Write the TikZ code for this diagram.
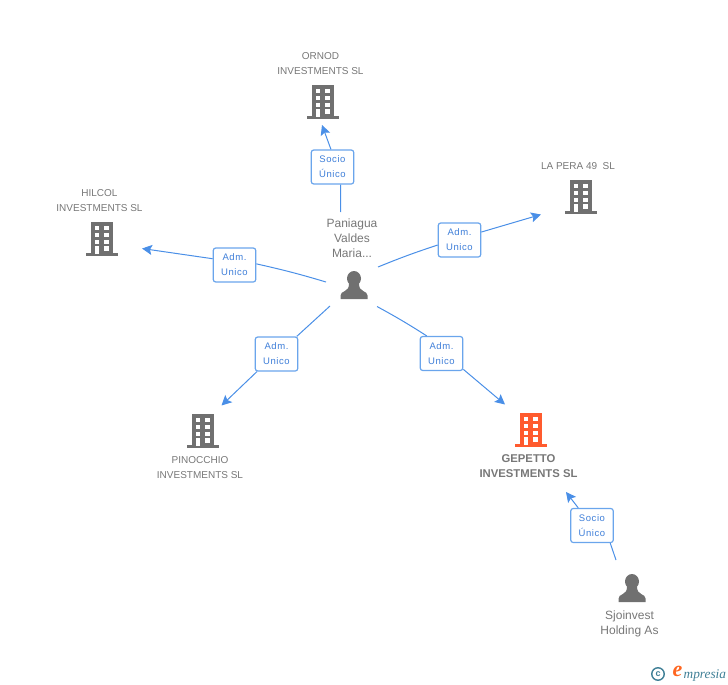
\documentclass[tikz,border=0pt]{standalone}
\usepackage{fontspec}
\usepackage{xcolor}
\usetikzlibrary{arrows.meta}
\setmainfont{Liberation Sans}
\newfontfamily\logofont{Liberation Serif}
\definecolor{linkblue}{HTML}{4A8FE7}
\definecolor{boxblue}{HTML}{6AA5EC}
\definecolor{labelblue}{HTML}{3F7FD9}
\definecolor{icongrey}{HTML}{707070}
\definecolor{textgrey}{HTML}{777777}
\definecolor{mainorange}{HTML}{FF5B2E}
\definecolor{logoteal}{HTML}{3F7F96}
\tikzset{
    link/.style={draw=linkblue,line width=1pt},
    linkarrow/.style={link,-{Stealth[length=10pt,width=10pt,inset=2pt]}},
    rolebox/.style={draw=boxblue,line width=1.2pt,fill=white,rounded corners=2.5pt,minimum width=42.5pt,minimum height=34pt,inner sep=0pt,align=center,text=labelblue,font=\fontsize{9.5}{15}\selectfont\addfontfeatures{LetterSpace=6}},
    entityname/.style={align=center,text=textgrey,inner sep=0pt,font=\fontsize{10}{15}\selectfont},
    personname/.style={entityname,font=\fontsize{12}{15}\selectfont},
    building/.pic={
        \fill[pic actions] (-11,-2.5) rectangle (11,-33.5);
        \fill[pic actions] (-16,0) rectangle (16,-2.8);
        \foreach \row in {-29.5,-22.5,-16} {
            \fill[white] (-7,\row) rectangle (-3,\row+4);
            \fill[white] (2,\row) rectangle (7,\row+4);
        }
        \fill[white] (-7,-9.5) rectangle (-3,-1.5);
        \fill[white] (2,-9.5) rectangle (7,-5);
    },
    person/.pic={
        \fill[pic actions] (0,-20.5) ellipse (7 and 7.5);
        \fill[pic actions] (-13.5,0) -- (-13.5,-3.5) .. controls (-13.5,-8.5) and (-5,-6.5) .. (-5,-15) -- (5,-15) .. controls (5,-6.5) and (13.5,-8.5) .. (13.5,-3.5) -- (13.5,0) -- cycle;
    }
}
\begin{document}
\begin{tikzpicture}[x=1pt,y=-1pt]
    \useasboundingbox (0,0) rectangle (728,685);

    % icons
    \pic[fill=icongrey] at (323,118.5) {building};
    \pic[fill=icongrey] at (581,213.5) {building};
    \pic[fill=icongrey] at (102,255.5) {building};
    \pic[fill=icongrey] at (203,447.5) {building};
    \pic[fill=mainorange] at (531,446.5) {building};
    \pic[fill=icongrey] at (354,299) {person};
    \pic[fill=icongrey] at (632,602) {person};

    % names
    \node[entityname] (ornod) at (320.5,63.5) {ORNOD\\INVESTMENTS SL};
    \node[entityname] (lapera) at (578,166) {LA PERA 49\ \ SL};
    \node[entityname] (hilcol) at (99.5,201) {HILCOL\\INVESTMENTS SL};
    \node[entityname] (pinocchio) at (200,467.5) {PINOCCHIO\\INVESTMENTS SL};
    \node[entityname,font=\fontsize{11.3}{15}\selectfont\bfseries] (gepetto) at (528.5,466) {GEPETTO\\INVESTMENTS SL};
    \node[personname] (paniagua) at (352,238) {Paniagua\\Valdes\\Maria...};
    \node[personname] (sjoinvest) at (629.5,624) {Sjoinvest\\Holding As};

    % free ends of the links
    \coordinate (ornodfrom) at (340.5,212);
    \coordinate (ornodto) at (322,125);
    \coordinate (laperafrom) at (378,267);
    \coordinate (laperato) at (541,214.5);
    \coordinate (hilcolfrom) at (326,282);
    \coordinate (hilcolto) at (142,248.5);
    \coordinate (pinocchiofrom) at (330,306);
    \coordinate (pinocchioto) at (221.5,405.5);
    \coordinate (gepettofrom) at (377,306.5);
    \coordinate (gepettoto) at (505,404.5);
    \coordinate (sjoinvestfrom) at (616,560);
    \coordinate (sjoinvestto) at (566,492);

    % role boxes
    \node[rolebox] (ornodrole) at (332.5,167) {Socio\\Único};
    \node[rolebox] (laperarole) at (459.5,240) {Adm.\\Unico};
    \node[rolebox] (hilcolrole) at (234.5,265) {Adm.\\Unico};
    \node[rolebox] (pinocchiorole) at (276.5,354) {Adm.\\Unico};
    \node[rolebox] (gepettorole) at (441.5,353.5) {Adm.\\Unico};
    \node[rolebox] (sjoinvestrole) at (592,525.5) {Socio\\Único};

    % links
    \draw[link] (ornodfrom) -- (ornodrole.-65);
    \draw[linkarrow] (ornodrole.95) -- (ornodto);
    \draw[link] (laperafrom) to[bend left=2] (laperarole.193);
    \draw[linkarrow] (laperarole.20) -- (laperato);
    \draw[link] (hilcolfrom) to[bend right=2] (hilcolrole.3);
    \draw[linkarrow] (hilcolrole.164) -- (hilcolto);
    \draw[link] (pinocchiofrom) -- (pinocchiorole.41);
    \draw[linkarrow] (pinocchiorole.222) -- (pinocchioto);
    \draw[link] (gepettofrom) to[bend left=2] (gepettorole.130);
    \draw[linkarrow] (gepettorole.-36) -- (gepettoto);
    \draw[link] (sjoinvestfrom) -- (sjoinvestrole.-44);
    \draw[linkarrow] (sjoinvestrole.128) -- (sjoinvestto);

    % logo
    \node[circle,draw=logoteal,line width=1.4pt,minimum size=12.5pt,inner sep=0pt,text=logoteal,font=\fontsize{9}{9}\selectfont\bfseries] (copyright) at (658,674) {c};
    \node[inner sep=0pt,text=mainorange!70!orange,font=\logofont\itshape\bfseries\fontsize{22}{22}\selectfont] (logoe) at (677.5,671.5) {e};
    \node[inner sep=0pt,anchor=west,text=logoteal,font=\logofont\itshape\fontsize{13.3}{13.3}\selectfont] (logotext) at (683.5,676) {mpresia};
\end{tikzpicture}
\end{document}
